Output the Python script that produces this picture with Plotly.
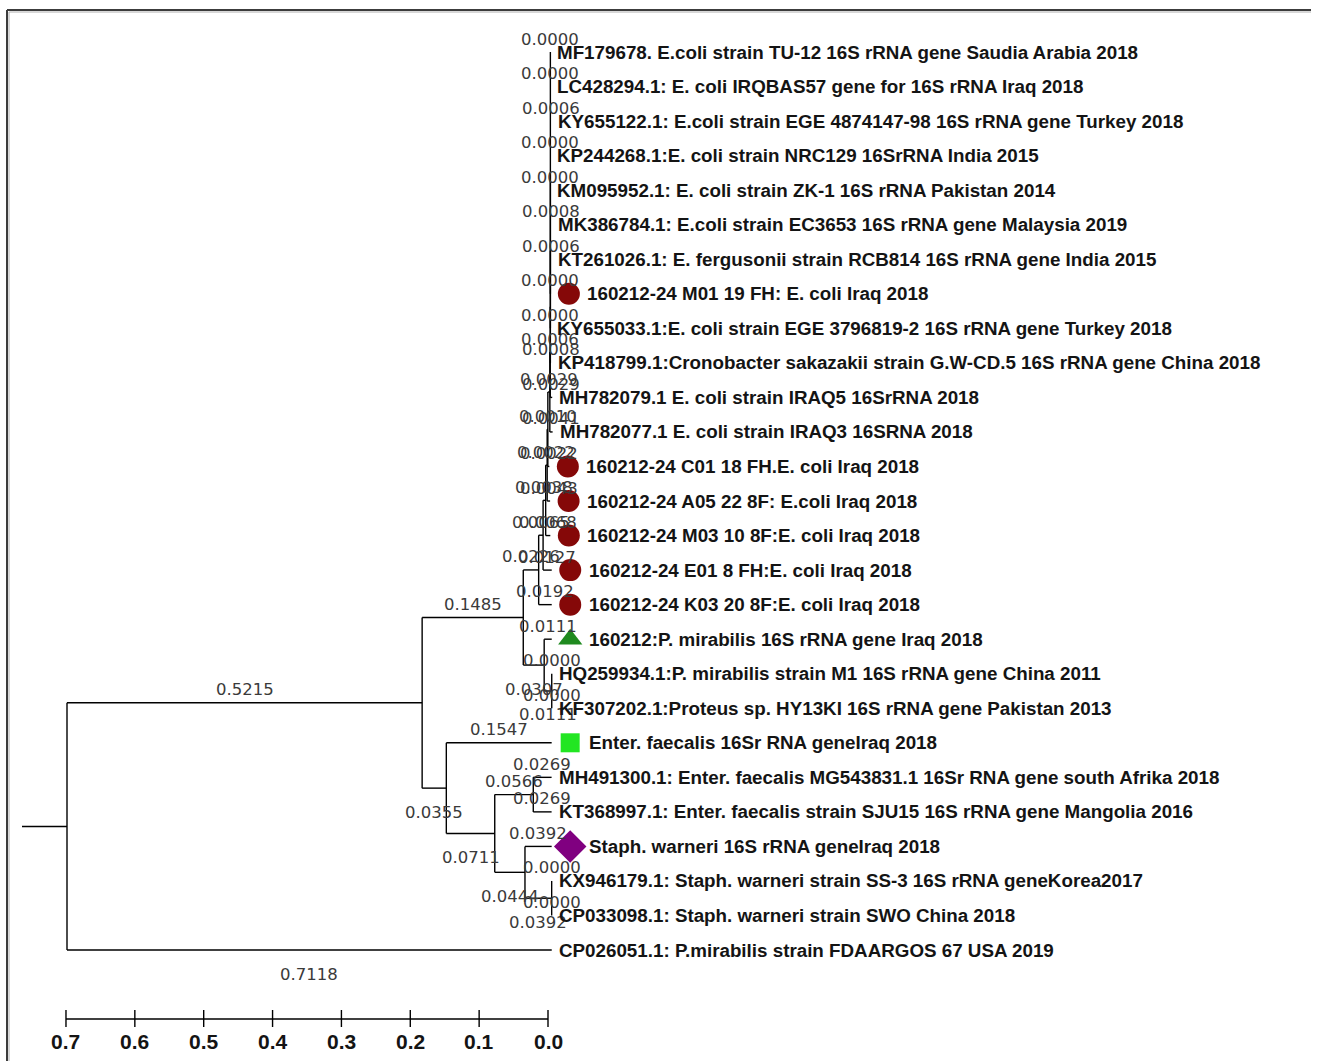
import plotly.graph_objects as go

# ---------------- data ----------------
tip_labels = [
    "MF179678. E.coli strain TU-12 16S rRNA gene Saudia Arabia 2018",
    "LC428294.1: E. coli IRQBAS57 gene for 16S rRNA Iraq 2018",
    "KY655122.1: E.coli strain EGE 4874147-98 16S rRNA gene Turkey 2018",
    "KP244268.1:E. coli strain NRC129 16SrRNA India 2015",
    "KM095952.1: E. coli strain ZK-1 16S rRNA Pakistan 2014",
    "MK386784.1: E.coli strain EC3653 16S rRNA gene Malaysia 2019",
    "KT261026.1: E. fergusonii strain RCB814 16S rRNA gene India 2015",
    "160212-24 M01 19 FH: E. coli Iraq 2018",
    "KY655033.1:E. coli strain EGE 3796819-2 16S rRNA gene Turkey 2018",
    "KP418799.1:Cronobacter sakazakii strain G.W-CD.5 16S rRNA gene China 2018",
    "MH782079.1 E. coli strain IRAQ5 16SrRNA 2018",
    "MH782077.1 E. coli strain IRAQ3 16SRNA 2018",
    "160212-24 C01 18 FH.E. coli Iraq 2018",
    "160212-24 A05 22 8F: E.coli Iraq 2018",
    "160212-24 M03 10 8F:E. coli Iraq 2018",
    "160212-24 E01 8 FH:E. coli Iraq 2018",
    "160212-24 K03 20 8F:E. coli Iraq 2018",
    "160212:P. mirabilis 16S rRNA gene Iraq 2018",
    "HQ259934.1:P. mirabilis strain M1 16S rRNA gene China 2011",
    "KF307202.1:Proteus sp. HY13KI 16S rRNA gene Pakistan 2013",
    "Enter. faecalis 16Sr RNA geneIraq 2018",
    "MH491300.1: Enter. faecalis MG543831.1 16Sr RNA gene south Afrika 2018",
    "KT368997.1: Enter. faecalis strain SJU15 16S rRNA gene Mangolia 2016",
    "Staph. warneri 16S rRNA geneIraq 2018",
    "KX946179.1: Staph. warneri strain SS-3 16S rRNA geneKorea2017",
    "CP033098.1: Staph. warneri strain SWO China 2018",
    "CP026051.1: P.mirabilis strain FDAARGOS 67 USA 2019",
]

tip_marker = ([None] * 7 + ["circle"] + [None] * 4 + ["circle"] * 5 +
              ["triangle-up", None, None, "square", None, None, "diamond",
               None, None, None])

# tree edges (child, parent, branch length); tips are t<row>
edge_child = ["N1", "t26", "N2", "N3", "A", "P",
              "B", "t16", "C", "t15", "D", "t14", "E", "t13", "F", "t12",
              "G", "t11", "H", "t10", "I", "t9", "J", "t8",
              "t0", "t1", "t2", "t3", "t4", "t5", "t6", "t7",
              "t17", "P2", "t18", "t19",
              "t20", "N4", "N5", "N6", "t21", "t22", "t23", "N7", "t24", "t25"]
edge_parent = ["root", "root", "N1", "N1", "N2", "N2",
               "A", "A", "B", "B", "C", "C", "D", "D", "E", "E",
               "F", "F", "G", "G", "H", "H", "I", "I",
               "J", "J", "J", "J", "J", "J", "J", "J",
               "P", "P", "P2", "P2",
               "N3", "N3", "N4", "N4", "N5", "N5", "N6", "N6", "N7", "N7"]
edge_length = [0.5215, 0.7118, 0.1485, 0.0355, 0.0226, 0.0307,
               0.0065, 0.0192, 0.0038, 0.0127, 0.0022, 0.0068, 0.0010, 0.0043, 0.0029, 0.0022,
               0.0006, 0.0041, 0.0002, 0.0029, 0.0000, 0.0008, 0.0000, 0.0000,
               0.0000, 0.0000, 0.0006, 0.0000, 0.0000, 0.0008, 0.0006, 0.0000,
               0.0111, 0.0111, 0.0000, 0.0000,
               0.1547, 0.0711, 0.0566, 0.0444, 0.0269, 0.0269, 0.0392, 0.0392, 0.0000, 0.0000]
unlabeled_edges = ["H", "I", "J"]

scale_ticks = [0.7, 0.6, 0.5, 0.4, 0.3, 0.2, 0.1, 0.0]
scale_tick_labels = ["0.7", "0.6", "0.5", "0.4", "0.3", "0.2", "0.1", "0.0"]

# ---------------- layout constants (pixels) ----------------
W, H = 1321, 1061
PX_ROOT = 67.0
PX_PER_UNIT = 681.0
Y0 = 52.0
ROW_PX = 34.54
SCALE_PX0 = 548.0      # pixel of 0.0 on the scale bar
SCALE_PX_PER_UNIT = 688.6
SCALE_LINE_Y = 1019.0
SCALE_LABEL_Y = 1041.0

marker_style = {
    "circle": dict(color="#850808", size=22),
    "triangle-up": dict(color="#1f8a1f", size=21),
    "square": dict(color="#22e622", size=19),
    "diamond": dict(color="#800080", size=25),
}

# ---------------- tree geometry ----------------
children = {}
for c, p in zip(edge_child, edge_parent):
    children.setdefault(p, []).append(c)

xpos = {"root": 0.0}
for c, p, l in zip(edge_child, edge_parent, edge_length):
    xpos[c] = xpos[p] + l

ycache = {}


def ypos(n):
    if n in ycache:
        return ycache[n]
    if n not in children:
        v = float(int(n[1:]))
    else:
        ch = children[n]
        v = (ypos(ch[0]) + ypos(ch[-1])) / 2.0
    ycache[n] = v
    return v


for n in list(children) + edge_child:
    ypos(n)

lx, ly = [], []
# root stub
stub = 45.0 / PX_PER_UNIT
lx += [-stub, 0.0, None]
ly += [ypos("root"), ypos("root"), None]
for c, p in zip(edge_child, edge_parent):
    lx += [xpos[p], xpos[c], None]
    ly += [ypos(c), ypos(c), None]
for n, ch in children.items():
    lx += [xpos[n], xpos[n], None]
    ly += [ypos(ch[0]), ypos(ch[-1]), None]

fig = go.Figure()
fig.add_trace(go.Scatter(x=lx, y=ly, mode="lines",
                         line=dict(color="#000000", width=1.4),
                         hoverinfo="skip", showlegend=False))

# markers
for sym, st in marker_style.items():
    mx, my = [], []
    for i, m in enumerate(tip_marker):
        if m == sym:
            mx.append(xpos["t%d" % i] + 18.5 / PX_PER_UNIT)
            my.append(float(i))
    fig.add_trace(go.Scatter(x=mx, y=my, mode="markers",
                             marker=dict(symbol=sym, color=st["color"], size=st["size"],
                                         line=dict(width=0)),
                             hoverinfo="skip", showlegend=False))

annotations = []
# branch length labels
for c, p, l in zip(edge_child, edge_parent, edge_length):
    if c in unlabeled_edges:
        continue
    sib = children[p]
    below = (c == sib[-1]) and (c in children or p == "root")
    annotations.append(dict(
        x=(xpos[p] + xpos[c]) / 2.0, y=ypos(c), xref="x", yref="y",
        text="%.4f" % l, showarrow=False, xanchor="center", yanchor="middle",
        yshift=-24 if below else 13,
        font=dict(family="DejaVu Sans", size=16.5, color="#3a3a3a")))

# tip labels
for i, name in enumerate(tip_labels):
    t = "t%d" % i
    annotations.append(dict(
        x=xpos[t], y=float(i), xref="x", yref="y",
        text="<b>%s</b>" % name, showarrow=False, xanchor="left", yanchor="middle",
        xshift=35 if tip_marker[i] else 5,
        font=dict(family="Liberation Sans", size=18.8, color="#141414")))

# scale bar (second x axis)
row_line = (SCALE_LINE_Y - Y0) / ROW_PX
row_lab = (SCALE_LABEL_Y - Y0) / ROW_PX
sx, sy = [max(scale_ticks), min(scale_ticks), None], [row_line, row_line, None]
for v in scale_ticks:
    sx += [v, v, None]
    sy += [row_line - 9.0 / ROW_PX, row_line + 8.0 / ROW_PX, None]
fig.add_trace(go.Scatter(x=sx, y=sy, mode="lines", xaxis="x2", yaxis="y",
                         line=dict(color="#000000", width=1.4),
                         hoverinfo="skip", showlegend=False))
for v, lab in zip(scale_ticks, scale_tick_labels):
    annotations.append(dict(
        x=v, y=row_lab, xref="x2", yref="y", text="<b>%s</b>" % lab,
        showarrow=False, xanchor="center", yanchor="middle",
        font=dict(family="Liberation Sans Narrow, Liberation Sans", size=21, color="#141414")))

# panel frame (sunken look: dark top/left)
shapes = [
    dict(type="line", xref="paper", yref="paper", x0=7 / W, x1=7 / W, y0=0, y1=1 - 10 / H,
         line=dict(color="#3c3c3c", width=2)),
    dict(type="line", xref="paper", yref="paper", x0=7 / W, x1=1311 / W, y0=1 - 10 / H, y1=1 - 10 / H,
         line=dict(color="#3c3c3c", width=2)),
    dict(type="line", xref="paper", yref="paper", x0=9 / W, x1=9 / W, y0=0, y1=1 - 12 / H,
         line=dict(color="#b0b0b0", width=1)),
    dict(type="line", xref="paper", yref="paper", x0=9 / W, x1=1311 / W, y0=1 - 12 / H, y1=1 - 12 / H,
         line=dict(color="#b0b0b0", width=1)),
]

fig.update_layout(
    width=W, height=H, margin=dict(l=0, r=0, t=0, b=0),
    paper_bgcolor="white", plot_bgcolor="white",
    xaxis=dict(range=[-PX_ROOT / PX_PER_UNIT, (W - PX_ROOT) / PX_PER_UNIT],
               visible=False, fixedrange=True),
    xaxis2=dict(range=[SCALE_PX0 / SCALE_PX_PER_UNIT, (SCALE_PX0 - W) / SCALE_PX_PER_UNIT],
                visible=False, overlaying="x", fixedrange=True),
    yaxis=dict(range=[(H - Y0) / ROW_PX, -Y0 / ROW_PX], visible=False, fixedrange=True),
    annotations=annotations, shapes=shapes, showlegend=False,
)

fig.write_html("out.html", config={"displayModeBar": False},
               post_script="document.body.style.margin='0';document.body.style.overflow='hidden';")
